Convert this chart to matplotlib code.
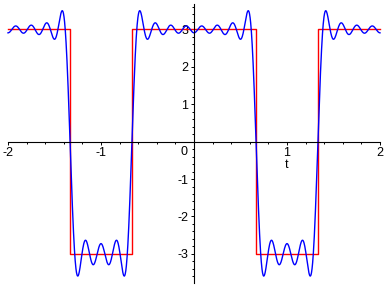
import numpy as np
import matplotlib
matplotlib.use('Agg')
from matplotlib import pyplot as plt
from matplotlib.ticker import MultipleLocator

# ── data ────────────────────────────────────────────────────────────────────
# square wave: edges in t and the level between each pair of edges
T_EDGES = [-2.0, -4/3, -2/3, 2/3, 4/3, 2.0]
LEVELS = [3.0, -3.0, 3.0, -3.0, 3.0]

# Fourier partial sum (period 2): mean + sum c_n cos(n pi t), n = 1..11
FOURIER_MEAN = 1.0
FOURIER_COEFFS = [3.308, -1.654, 0.0, 0.827, -0.662, 0.0,
                  0.473, -0.413, 0.0, 0.331, -0.301]

X_TICKS = [-2, -1, 1, 2]
Y_TICKS = [-3, -2, -1, 1, 2, 3]

# ── styling ────────────────────────────────────────────────────────────────
W, H, DPI = 388, 288, 100
FS = 9
plt.rcParams['font.family'] = ['Liberation Sans', 'DejaVu Sans']
plt.rcParams['axes.unicode_minus'] = False

fig = plt.figure(figsize=(W / DPI, H / DPI), dpi=DPI)
# axes box in pixels: x -2..2 -> 8..380, y top 4 .. bottom 283
ax = fig.add_axes([8 / W, (H - 283) / H, 372 / W, 279 / H])
ax.set_xlim(-2, 2)
ax.set_ylim(-3.78, 3.68)

# square wave (red)
xs = np.repeat(T_EDGES, 2)[1:-1]
ys = np.repeat(LEVELS, 2)
ax.plot(xs, ys, color='#ff0000', lw=1.0, clip_on=False)

# partial Fourier sum (blue)
t = np.linspace(-2, 2, 2000)
s = np.full_like(t, FOURIER_MEAN)
for n, c in enumerate(FOURIER_COEFFS, start=1):
    s += c * np.cos(n * np.pi * t)
ax.plot(t, s, color='#0000ff', lw=1.0, clip_on=False)

# Maple-style axes through the origin
for side in ('top', 'right'):
    ax.spines[side].set_visible(False)
ax.spines['left'].set_position(('data', 0))
ax.spines['bottom'].set_position(('data', 0))
for side in ('left', 'bottom'):
    ax.spines[side].set_linewidth(0.8)

ax.set_xticks(X_TICKS)
ax.set_yticks(Y_TICKS)
ax.xaxis.set_minor_locator(MultipleLocator(0.2))
ax.yaxis.set_minor_locator(MultipleLocator(0.2))
ax.tick_params(which='major', direction='out', length=2.2, width=0.7,
               labelsize=FS, colors='black')
ax.tick_params(which='minor', direction='out', length=1.2, width=0.7)
ax.tick_params(axis='x', pad=2)
ax.tick_params(axis='y', pad=2)

# origin label and axis label
ax.annotate('0', xy=(0, 0), xytext=(-5, -3), textcoords='offset points',
            ha='right', va='top', fontsize=FS)
ax.annotate('t', xy=(1, 0), xytext=(0, -12.5), textcoords='offset points',
            ha='center', va='top', fontsize=FS)

fig.savefig('out.png', dpi=DPI)
